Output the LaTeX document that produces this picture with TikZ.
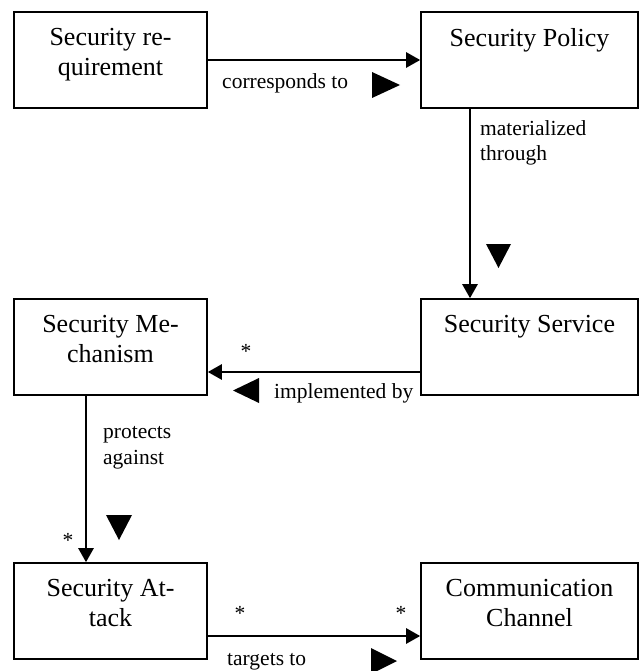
\documentclass[tikz,border=0pt]{standalone}
\usepackage{fontspec}
\setmainfont{Liberation Serif}
\usetikzlibrary{arrows.meta}
\begin{document}
\begin{tikzpicture}[x=1pt,y=-1pt,
  box/.style={draw, line width=1.6pt, minimum width=#1, minimum height=96pt, inner sep=0pt},
  boxtxt/.style={anchor=north, inner sep=0pt, align=center, font=\fontsize{26}{30}\selectfont},
  conn/.style={line width=2.5pt, -{Triangle[length=14pt,width=15pt]}},
  lbl/.style={inner sep=0pt, align=left, font=\fontsize{21.5}{25.5}\selectfont},
  star/.style={inner sep=0pt, anchor=base, font=\fontsize{21.5}{25.5}\selectfont},
  bigtri/.style={fill=black}]
\useasboundingbox (0,0) rectangle (640,671);
% boxes
\node[box=193pt] (req)  at (110.5,60)  {};
\node[box=217pt] (pol)  at (529.5,60)  {};
\node[box=193pt] (mech) at (110.5,347) {};
\node[box=217pt] (serv) at (529.5,347) {};
\node[box=193pt] (att)  at (110.5,611) {};
\node[box=217pt] (chan) at (529.5,611) {};
% box texts
\node[boxtxt] (reqt)  at ([yshift=-17.2pt]req.north)  {Security re-\\quirement};
\node[boxtxt] (polt)  at ([yshift=-17.2pt]pol.north)  {Security Policy};
\node[boxtxt] (mecht) at ([yshift=-17.2pt]mech.north) {Security Me-\\chanism};
\node[boxtxt] (servt) at ([yshift=-17.2pt]serv.north) {Security Service};
\node[boxtxt] (attt)  at ([yshift=-17.2pt]att.north)  {Security At-\\tack};
\node[boxtxt] (chant) at ([yshift=-17.2pt]chan.north) {Communication\\Channel};
% connectors
\draw[conn] (req.east) -- (pol.west);
\draw[conn] ([xshift=-59.5pt]pol.south) -- ([xshift=-59.5pt]serv.north);
\draw[conn] ([yshift=-25pt]serv.west) -- ([yshift=-25pt]mech.east);
\draw[conn] ([xshift=-24.5pt]mech.south) -- ([xshift=-24.5pt]att.north);
\draw[conn] ([yshift=-25pt]att.east) -- ([yshift=-25pt]chan.west);
% labels
\node[lbl, anchor=base west] (l1) at (222,89) {corresponds to};
\node[lbl, anchor=north west] (l2) at (480,120.3) {materialized\\through};
\node[lbl, anchor=base west] (l3) at (274,398) {implemented by};
\node[lbl, anchor=north west] (l4) at (103,426.6) {protects\\against};
\node[lbl, anchor=base west] (l5) at (227,665) {targets to};
% multiplicities
\node[star] (s1) at (246,358) {*};
\node[star] (s2) at (68,547) {*};
\node[star] (s3) at (240,620) {*};
\node[star] (s4) at (401,620) {*};
% direction triangles
\fill[bigtri] (372,72) -- (372,98) -- (400,85) -- cycle;
\fill[bigtri] (486,244) -- (511,244) -- (498.5,268) -- cycle;
\fill[bigtri] (259,378) -- (259,403) -- (233,390.5) -- cycle;
\fill[bigtri] (106,515) -- (132,515) -- (119,540) -- cycle;
\fill[bigtri] (371,648) -- (371,674) -- (397,661) -- cycle;
\end{tikzpicture}
\end{document}
